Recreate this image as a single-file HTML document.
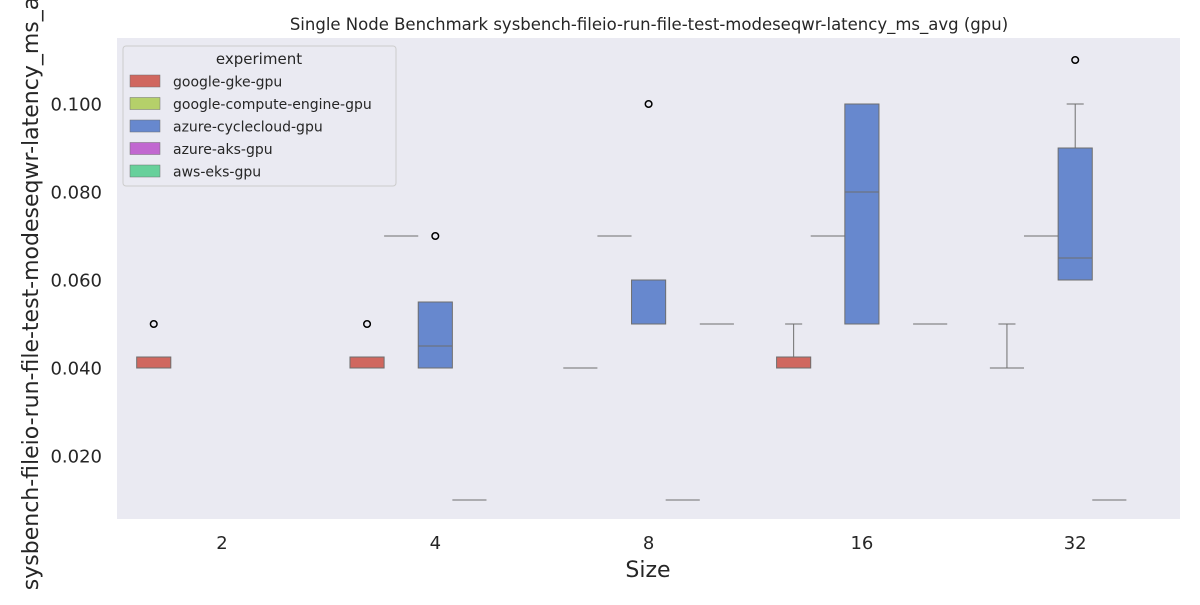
<!DOCTYPE html>
<html><head><meta charset="utf-8"><style>
body{margin:0;background:#fff;font-family:"Liberation Sans","DejaVu Sans",sans-serif;}
</style></head><body>
<svg id="c" width="1200" height="600" xmlns="http://www.w3.org/2000/svg" style="font-family:'DejaVu Sans','Liberation Sans',sans-serif">
<rect x="117" y="38" width="1063" height="481" fill="#eaeaf2"/>
<text x="649" y="30" text-anchor="middle" font-size="16.5" fill="#262626">Single Node Benchmark sysbench-fileio-run-file-test-modeseqwr-latency_ms_avg (gpu)</text>
<text x="648" y="577" text-anchor="middle" font-size="22" fill="#262626">Size</text>
<text transform="translate(38,280) rotate(-90)" text-anchor="middle" font-size="22" fill="#262626">sysbench-fileio-run-file-test-modeseqwr-latency_ms_avg</text>
<g id="ticks"></g><g id="marks"></g><g id="legend"></g>
</svg>
<script>
const categories=["2","4","8","16","32"];
const series=["google-gke-gpu","google-compute-engine-gpu","azure-cyclecloud-gpu","azure-aks-gpu","aws-eks-gpu"];
const colors=["#d0675f","#b5d06a","#6788ce","#c167d0","#67d09b"];
const yTicks=[0.02,0.04,0.06,0.08,0.10];
const yTickLabels=["0.020","0.040","0.060","0.080","0.100"];
// [min,q1,median,q3,max,outliers]
const gke=[[0.04,0.04,0.0425,0.0425,0.0425,[0.05]],[0.04,0.04,0.0425,0.0425,0.0425,[0.05]],[0.04,0.04,0.04,0.04,0.04,[]],[0.04,0.04,0.0425,0.0425,0.05,[]],[0.04,0.04,0.04,0.04,0.05,[]]];
const gce=[null,[0.07,0.07,0.07,0.07,0.07,[]],[0.07,0.07,0.07,0.07,0.07,[]],[0.07,0.07,0.07,0.07,0.07,[]],[0.07,0.07,0.07,0.07,0.07,[]]];
const azureCC=[null,[0.04,0.04,0.045,0.055,0.055,[0.07]],[0.05,0.05,0.06,0.06,0.06,[0.1]],[0.05,0.05,0.08,0.1,0.1,[]],[0.06,0.06,0.065,0.09,0.1,[0.11]]];
const aks=[null,[0.01,0.01,0.01,0.01,0.01,[]],[0.01,0.01,0.01,0.01,0.01,[]],null,[0.01,0.01,0.01,0.01,0.01,[]]];
const eks=[null,null,[0.05,0.05,0.05,0.05,0.05,[]],[0.05,0.05,0.05,0.05,0.05,[]],null];
const allData=[gke,gce,azureCC,aks,eks];

const NS="http://www.w3.org/2000/svg";
const y=v=>456-(v-0.02)*4400;
const step=213.3, x0=222;
const xc=i=>x0+i*step;
const hw=step*0.8/5;
function mk(t,a,p){const e=document.createElementNS(NS,t);for(const k in a)e.setAttribute(k,a[k]);p.appendChild(e);return e;}
const T=document.getElementById('ticks'),M=document.getElementById('marks'),L=document.getElementById('legend');
yTicks.forEach((v,i)=>{const t=mk('text',{x:102,y:y(v)+6.5,'text-anchor':'end','font-size':18,fill:'#262626'},T);t.textContent=yTickLabels[i];

});
categories.forEach((c,i)=>{const t=mk('text',{x:xc(i),y:549,'text-anchor':'middle','font-size':18,fill:'#262626'},T);t.textContent=c;

});
allData.forEach((s,h)=>{s.forEach((d,i)=>{if(!d)return;
const cx=xc(i)+(h-2)*hw, w=hw, l=cx-w/2;
const g=mk('g',{},M);


const st='#6e6e6e';
mk('line',{x1:cx,x2:cx,y1:y(d[4]),y2:y(d[3]),stroke:st,'stroke-width':1},g);
mk('line',{x1:cx,x2:cx,y1:y(d[1]),y2:y(d[0]),stroke:st,'stroke-width':1},g);
mk('line',{x1:cx-w/4,x2:cx+w/4,y1:y(d[4]),y2:y(d[4]),stroke:st,'stroke-width':1},g);
mk('line',{x1:cx-w/4,x2:cx+w/4,y1:y(d[0]),y2:y(d[0]),stroke:st,'stroke-width':1},g);
mk('rect',{x:l,y:y(d[3]),width:w,height:Math.max(0,y(d[1])-y(d[3])),fill:colors[h],stroke:st,'stroke-width':1},g);
mk('line',{x1:l,x2:l+w,y1:y(d[2]),y2:y(d[2]),stroke:st,'stroke-width':1},g);
d[5].forEach(o=>mk('circle',{cx:cx,cy:y(o),r:3.3,fill:'none',stroke:'#000','stroke-width':1.5},g));
});});
mk('rect',{x:123,y:46,width:273,height:140,rx:3,fill:'#eaeaf2',stroke:'#cccccc','stroke-width':1},L);
const lt=mk('text',{x:259,y:64,'text-anchor':'middle','font-size':15,fill:'#262626'},L);lt.textContent='experiment';


series.forEach((s,i)=>{const g=mk('g',{},L);


mk('rect',{x:130,y:75+i*22.5,width:30,height:12,fill:colors[i],stroke:'#6e6e6e','stroke-width':0.5},g);
const t=mk('text',{x:173,y:86.5+i*22.5,'font-size':14,fill:'#262626'},g);t.textContent=s;});
</script>
</body></html>
